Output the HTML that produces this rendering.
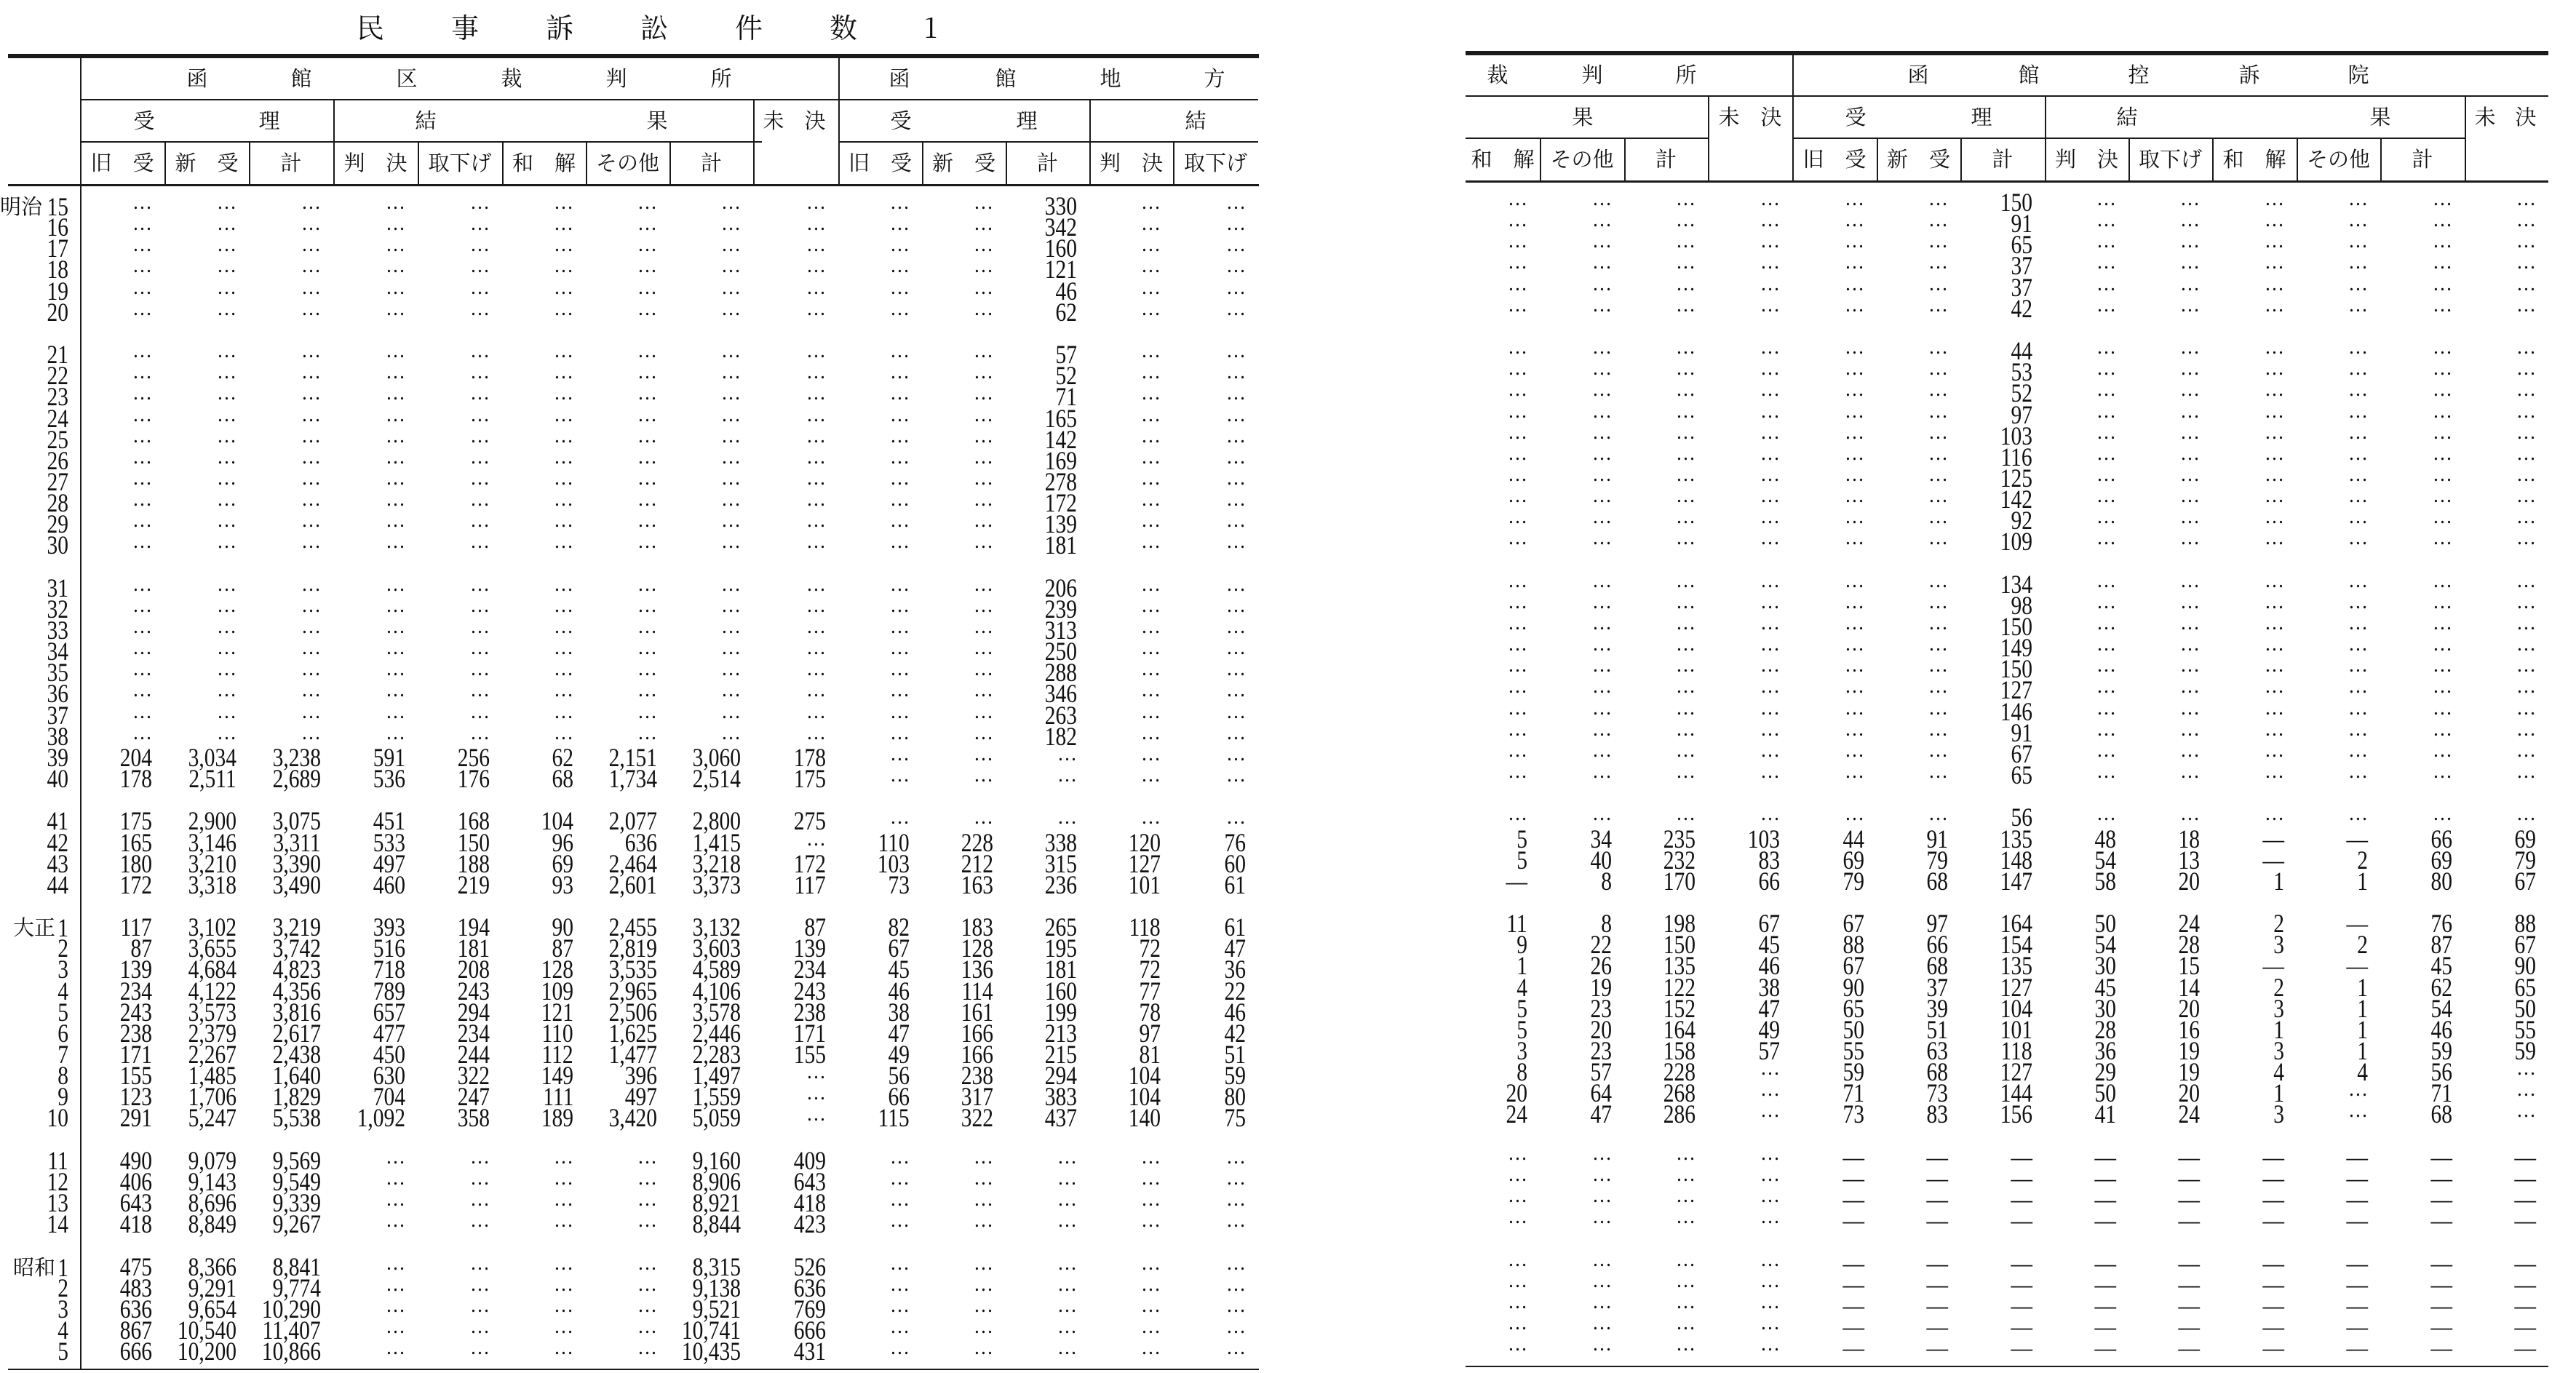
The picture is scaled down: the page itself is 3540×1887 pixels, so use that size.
<!DOCTYPE html>
<html><head><meta charset="utf-8">
<style>
html,body{margin:0;padding:0;background:#fff;}
#page{position:relative;width:3540px;height:1887px;overflow:hidden;background:#fff;font-family:"Liberation Serif","Noto Serif CJK SC","Noto Sans CJK JP",serif;color:#111;}
.ln{position:absolute;background:#1a1a1a;}
.h{position:absolute;font-size:29px;line-height:30px;height:30px;text-align:center;font-family:"Noto Serif CJK SC","Noto Sans CJK JP",serif;white-space:nowrap;}
.c{position:absolute;height:40px;line-height:40px;font-size:36px;text-align:right;white-space:nowrap;}
.c span{display:inline-block;transform:scaleX(0.82);transform-origin:right center;}
.c span.d{font-size:30px;transform:scaleX(0.9) translateY(-8px);letter-spacing:0;}
.lab{position:absolute;height:40px;line-height:40px;font-size:36px;text-align:right;white-space:nowrap;}
.lab .era{font-family:"Noto Serif CJK SC","Noto Sans CJK JP",serif;font-size:29px;vertical-align:2px;}
.lab .n{display:inline-block;transform:scaleX(0.82);transform-origin:right center;}
</style></head>
<body>
<div id="page">
<div class="h" style="left:490px;top:14px;width:840px;height:44px;font-size:38px;line-height:44px;letter-spacing:92px;text-align:left;">民事訴訟件数1</div>
</div>
<script>
// ---- data arrays ----
const rowLabels = ["明治15","16","17","18","19","20","","21","22","23","24","25","26","27","28","29","30","","31","32","33","34","35","36","37","38","39","40","","41","42","43","44","","大正 1","2","3","4","5","6","7","8","9","10","","11","12","13","14","","昭和 1","2","3","4","5"];
const D="…", M="—";
const chihouTotal = ["330","342","160","121","46","62","57","52","71","165","142","169","278","172","139","181","206","239","313","250","288","346","263","182"];
const kousoTotal = ["150","91","65","37","37","42","44","53","52","97","103","116","125","142","92","109","134","98","150","149","150","127","146","91","67","65","56"];
const kuRows = [
["204","3,034","3,238","591","256","62","2,151","3,060","178"],
["178","2,511","2,689","536","176","68","1,734","2,514","175"],
["175","2,900","3,075","451","168","104","2,077","2,800","275"],
["165","3,146","3,311","533","150","96","636","1,415",D],
["180","3,210","3,390","497","188","69","2,464","3,218","172"],
["172","3,318","3,490","460","219","93","2,601","3,373","117"],
["117","3,102","3,219","393","194","90","2,455","3,132","87"],
["87","3,655","3,742","516","181","87","2,819","3,603","139"],
["139","4,684","4,823","718","208","128","3,535","4,589","234"],
["234","4,122","4,356","789","243","109","2,965","4,106","243"],
["243","3,573","3,816","657","294","121","2,506","3,578","238"],
["238","2,379","2,617","477","234","110","1,625","2,446","171"],
["171","2,267","2,438","450","244","112","1,477","2,283","155"],
["155","1,485","1,640","630","322","149","396","1,497",D],
["123","1,706","1,829","704","247","111","497","1,559",D],
["291","5,247","5,538","1,092","358","189","3,420","5,059",D],
["490","9,079","9,569",D,D,D,D,"9,160","409"],
["406","9,143","9,549",D,D,D,D,"8,906","643"],
["643","8,696","9,339",D,D,D,D,"8,921","418"],
["418","8,849","9,267",D,D,D,D,"8,844","423"],
["475","8,366","8,841",D,D,D,D,"8,315","526"],
["483","9,291","9,774",D,D,D,D,"9,138","636"],
["636","9,654","10,290",D,D,D,D,"9,521","769"],
["867","10,540","11,407",D,D,D,D,"10,741","666"],
["666","10,200","10,866",D,D,D,D,"10,435","431"]];
const chihouRows = [
["110","228","338","120","76","5","34","235","103"],
["103","212","315","127","60","5","40","232","83"],
["73","163","236","101","61",M,"8","170","66"],
["82","183","265","118","61","11","8","198","67"],
["67","128","195","72","47","9","22","150","45"],
["45","136","181","72","36","1","26","135","46"],
["46","114","160","77","22","4","19","122","38"],
["38","161","199","78","46","5","23","152","47"],
["47","166","213","97","42","5","20","164","49"],
["49","166","215","81","51","3","23","158","57"],
["56","238","294","104","59","8","57","228",D],
["66","317","383","104","80","20","64","268",D],
["115","322","437","140","75","24","47","286",D]];
const kousoRows = [
["44","91","135","48","18",M,M,"66","69"],
["69","79","148","54","13",M,"2","69","79"],
["79","68","147","58","20","1","1","80","67"],
["67","97","164","50","24","2",M,"76","88"],
["88","66","154","54","28","3","2","87","67"],
["67","68","135","30","15",M,M,"45","90"],
["90","37","127","45","14","2","1","62","65"],
["65","39","104","30","20","3","1","54","50"],
["50","51","101","28","16","1","1","46","55"],
["55","63","118","36","19","3","1","59","59"],
["59","68","127","29","19","4","4","56",D],
["71","73","144","50","20","1",D,"71",D],
["73","83","156","41","24","3",D,"68",D]];

// ---- layout ----
const page=document.getElementById('page');
const LX=[110,226,342,458,574,690,805,920,1035,1152,1267,1382,1497,1612,1729];
const RX=[2014,2116,2232,2347,2463,2579,2694,2810,2925,3040,3156,3271,3387,3502];
const rowY=i=>283+i*29.15;
function line(x,y,w,h,name){const e=document.createElement('div');e.className='ln';e.style.cssText=`left:${x}px;top:${y}px;width:${w}px;height:${h}px`;


page.appendChild(e);}
function htext(t,cx,cy,name,ls){const e=document.createElement('div');e.className='h';e.textContent=t;
if(ls){e.style.letterSpacing=ls+'px';}
e.style.left=(cx-200)+'px';e.style.width='400px';e.style.top=(cy-15)+'px';
if(ls){e.style.textIndent=ls+'px';}


page.appendChild(e);}
function cell(v,right,cy,name){const e=document.createElement('div');e.className='c';e.style.left=(right-200)+'px';e.style.width='200px';e.style.top=(cy-20)+'px';
const s=document.createElement('span');s.textContent=v;if(v===D)s.className='d';e.appendChild(s);


page.appendChild(e);}

// left table lines
const LT=77,LB=1883;
line(11,LT-3,1719,6,'left-top-rule');
line(110,136,1619,2,'left-header-rule-1');
line(110,194,937,2,'left-header-rule-2a');
line(1152,194,577,2,'left-header-rule-2b');
line(11,253,1719,3,'left-header-bottom-rule');
line(11,LB-2,1719,2,'left-bottom-rule');
line(110,LT,2,LB-LT,'left-stub-divider');
line(1152,LT,2,176,'left-court-divider');
[458,1035,1497].forEach(x=>line(x,136,2,117,'left-group-divider'));
[226,342,574,690,805,920,1267,1382,1612].forEach(x=>line(x,194,2,59,'left-column-divider'));
// right table lines
const RT=73,RB=1879;
line(2014,RT-3,1488,6,'right-top-rule');
line(2014,131,1488,2,'right-header-rule-1');
line(2014,189,333,2,'right-header-rule-2a');
line(2463,189,924,2,'right-header-rule-2b');
line(2014,248,1488,3,'right-header-bottom-rule');
line(2014,RB-2,1488,2,'right-bottom-rule');
line(2463,RT,2,175,'right-court-divider');
[2347,2810,3387].forEach(x=>line(x,131,2,117,'right-group-divider'));
[2116,2232,2579,2694,2925,3040,3156,3271].forEach(x=>line(x,189,2,59,'right-column-divider'));

// headers left
[["函",271],["館",414],["区",559],["裁",703],["判",847],["所",991]].forEach(a=>htext(a[0],a[1],107,'ku-court-header'));
[["函",1236],["館",1382],["地",1526],["方",1669]].forEach(a=>htext(a[0],a[1],107,'chihou-court-header'));
[["受",198],["理",370],["結",585],["果",903],["未",1063],["決",1120],["受",1238],["理",1411],["結",1643]].forEach(a=>htext(a[0],a[1],165,'group-header'));
const subL=["旧　受","新　受","計","判　決","取下げ","和　解","その他","計",null,"旧　受","新　受","計","判　決","取下げ"];
subL.forEach((t,i)=>{if(t)htext(t,(LX[i]+LX[i+1])/2,223,'column-header');});
// headers right
[["裁",2058],["判",2188],["所",2317]].forEach(a=>htext(a[0],a[1],102,'chihou-court-header-cont'));
[["函",2636],["館",2788],["控",2939],["訴",3091],["院",3241]].forEach(a=>htext(a[0],a[1],102,'kouso-court-header'));
[["果",2175],["未",2376],["決",2434],["受",2550],["理",2723],["結",2923],["果",3271],["未",3415],["決",3471]].forEach(a=>htext(a[0],a[1],160,'group-header'));
const subR=["和　解","その他","計",null,"旧　受","新　受","計","判　決","取下げ","和　解","その他","計",null];
subR.forEach((t,i)=>{if(t)htext(t,(RX[i]+RX[i+1])/2,218,'column-header');});

// rows
let dataIdx=0;
rowLabels.forEach((lab,i)=>{
  if(lab==="")return;
  const y=rowY(i), yr=y-5;
  const e=document.createElement('div');e.className='lab';e.style.left='0px';e.style.width='94px';e.style.top=(y-20)+'px';
  const m=lab.match(/^([^\d ]*)\s?(\d+)$/);
  if(m[1]){const s=document.createElement('span');s.className='era';s.textContent=m[1];e.appendChild(s);}
  const n=document.createElement('span');n.className='n';n.textContent=(m[1]?' ':'')+m[2];e.appendChild(n);
  
  
  page.appendChild(e);
  const k=dataIdx; dataIdx++;
  let ku, ch, ko;
  if(k<24){ku=Array(9).fill(D);ch=[D,D,chihouTotal[k],D,D,D,D,D,D];}
  else if(k<27){ku=kuRows[k-24];ch=Array(9).fill(D);}
  else {ku=kuRows[k-24];const cr=chihouRows[k-27];ch=cr?cr:Array(9).fill(D);}
  if(k<27){ko=[D,D,kousoTotal[k],D,D,D,D,D,D];}
  else {const kr=kousoRows[k-27];ko=kr?kr:Array(9).fill(M);}
  ku.forEach((v,j)=>cell(v,LX[j+1]-17,y,'ku-cell'));
  for(let j=0;j<5;j++)cell(ch[j],LX[j+10]-17,y,'chihou-cell');
  for(let j=0;j<4;j++)cell(ch[j+5],RX[j+1]-17,yr,'chihou-cell');
  ko.forEach((v,j)=>cell(v,RX[j+5]-17,yr,'kouso-cell'));
});
</script>
</body></html>
